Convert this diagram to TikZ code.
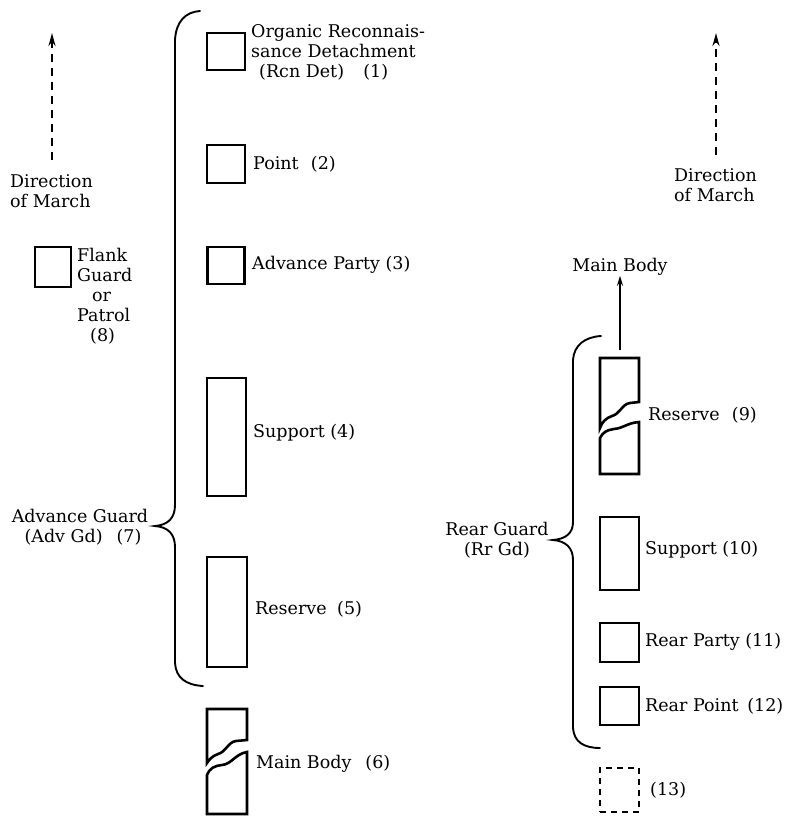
\documentclass[tikz,border=0pt]{standalone}
\usepackage{fontspec}
\setmainfont{DejaVu Serif}
\usetikzlibrary{arrows.meta}
\tikzset{
  unit/.style={draw, line width=2.6pt, inner sep=0pt},
  lbl/.style={inner sep=0pt, anchor=west, font=\fontsize{17.5}{20}\selectfont, align=left},
  brace/.style={line width=1.9pt, line cap=round},
  brk/.style={line width=2.6pt, line join=miter},
  dirarrow/.style={line width=2.4pt, dash pattern=on 8pt off 6pt, -{Stealth[length=13pt,width=7pt]}},
}
\begin{document}
\begin{tikzpicture}[x=1pt,y=-1pt]
\useasboundingbox (0,0) rectangle (791,816);
% left column boxes
\node[unit, minimum width=38pt, minimum height=37pt] (b1) at (226,51.5) {};
\node[unit, minimum width=38pt, minimum height=38pt] (b2) at (226,164) {};
\node[unit, minimum width=37pt, minimum height=37pt] (b3) at (226,265.5) {};
\node[unit, minimum width=39pt, minimum height=118pt] (b4) at (226.5,437) {};
\node[unit, minimum width=40pt, minimum height=110pt] (b5) at (227,612) {};
\node[unit, minimum width=36pt, minimum height=40pt] (b8) at (53,267) {};
% main body (6), broken
\draw[brk] (247,740) -- (247,709) -- (207,709) -- (207,763)
  .. controls (209,760) and (212,756) .. (218,754)
  .. controls (226,752) and (228,742) .. (236,741) -- cycle;
\draw[brk] (207,775) .. controls (210,768) and (214,766) .. (222,765)
  .. controls (232,764) and (235,754) .. (247,752) -- (247,814) -- (207,814) -- cycle;
% labels left
\node[lbl] (t1) at (251,52) {Organic Reconnais-\\sance Detachment\\\hspace{8pt}(Rcn Det)\hspace{1.1em}(1)};
\node[lbl] (t2) at (253,164) {Point\hspace{0.7em}(2)};
\node[lbl] (t3) at (252,265) {Advance Party (3)};
\node[lbl] (t4) at (253,433) {Support (4)};
\node[lbl] (t5) at (255,609) {Reserve\hspace{0.6em}(5)};
\node[lbl] (t6) at (256,764) {Main Body\hspace{0.8em}(6)};
\node[lbl, anchor=center, align=center] (t7) at (80,527) {Advance Guard\\\hspace{6pt}(Adv Gd)\hspace{0.8em}(7)};
\node[lbl] (dirL) at (10,191) {Direction\\of March};
\node[lbl] (t8) at (77,296) {Flank\\Guard\\\hspace{15pt}or\\Patrol\\\hspace{13pt}(8)};
% left brace
\draw[brace] (200,11) .. controls (185,12) and (176,22) .. (175,40) -- (175,505)
  .. controls (175,518) and (168,525) .. (155,526)
  .. controls (168,527) and (175,534) .. (175,547) -- (175,663)
  .. controls (176,678) and (186,685) .. (203,686);
% left direction arrow
\coordinate (dla) at (52,160);
\coordinate (dlb) at (52,33);
\draw[dirarrow] (dla) -- (dlb);
% right column
\coordinate (dra) at (716,155);
\coordinate (drb) at (716,33);
\draw[dirarrow] (dra) -- (drb);
\node[lbl] (dirR) at (674,185) {Direction\\of March};
\node[lbl, anchor=center] (mbr) at (620,267) {Main Body};
\coordinate (mba) at (620,350);
\draw[line width=1.4pt, -{Stealth[length=10pt,width=6pt]}] (mba) -- (mbr.south);
% reserve (9), broken
\draw[brk] (639,402) -- (639,358) -- (600,358) -- (600,428)
  .. controls (602,422) and (606,418) .. (612,416)
  .. controls (620,414) and (622,404) .. (630,403) -- cycle;
\draw[brk] (600,438) .. controls (603,432) and (607,430) .. (614,429)
  .. controls (624,428) and (627,423) .. (639,422) -- (639,474) -- (600,474) -- cycle;
\node[unit, minimum width=39pt, minimum height=73pt] (b10) at (619.5,553.5) {};
\node[unit, minimum width=39pt, minimum height=39pt] (b11) at (619.5,642.5) {};
\node[unit, minimum width=39pt, minimum height=38pt] (b12) at (619.5,706) {};
\node[unit, dash pattern=on 6pt off 5pt, minimum width=39pt, minimum height=44pt] (b13) at (619.5,790) {};
\node[lbl] (t9) at (648,415) {Reserve\hspace{0.7em}(9)};
\node[lbl] (t10) at (645,550) {Support (10)};
\node[lbl] (t11) at (645,642) {Rear Party (11)};
\node[lbl] (t12) at (645,706) {Rear Point\hspace{0.5em}(12)};
\node[lbl] (t13) at (650,790) {(13)};
\node[lbl, anchor=center, align=center] (trg) at (497,540) {Rear Guard\\(Rr Gd)};
% right brace
\draw[brace] (601,336) .. controls (585,337) and (574,345) .. (573,360) -- (573,522)
  .. controls (573,533) and (566,539) .. (553,540)
  .. controls (566,541) and (573,548) .. (573,560) -- (573,728)
  .. controls (574,742) and (584,748) .. (600,748);
\end{tikzpicture}
\end{document}
